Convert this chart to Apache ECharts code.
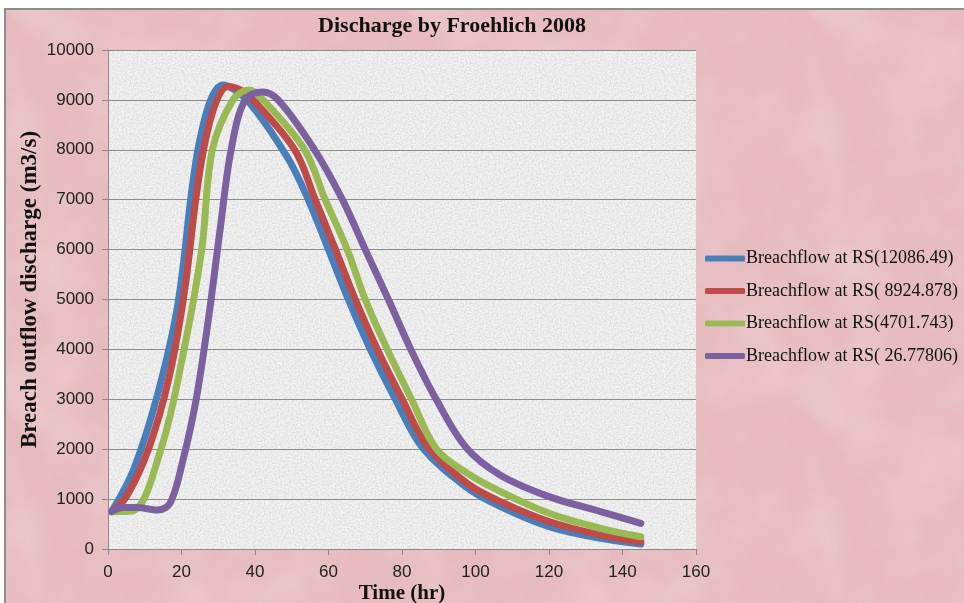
<!DOCTYPE html>
<html>
<head>
<meta charset="utf-8">
<title>Discharge by Froehlich 2008</title>
<script src="https://cdn.jsdelivr.net/npm/echarts@6/dist/echarts.min.js"></script>
<style>
  html, body { margin: 0; padding: 0; background: #ffffff; overflow: hidden; width: 964px; height: 603px; }
  #frame {
    position: absolute; left: 4px; top: 8px; width: 958px; height: 593px;
    background-color: #e8babe; border-left: 2px solid #8d8d8d; border-top: 2px solid #8d8d8d;
  }
  #plotbg { position: absolute; left: 108px; top: 50px; width: 588px; height: 499px; background-color: #ececec; }
  #chart { position: absolute; left: 0; top: 0; width: 964px; height: 603px; }
</style>
</head>
<body>
<div id="frame"></div>
<div id="plotbg"></div>
<div id="chart"></div>
<script>
// Hydrograph times (hr) and breach outflow (m3/s) at four river stations
const stationNames = [
  'Breachflow at RS(12086.49)',
  'Breachflow at RS( 8924.878)',
  'Breachflow at RS(4701.743)',
  'Breachflow at RS( 26.77806)'
];

const timeRS12086 = [1, 7, 13.5, 19, 25, 31.3, 37.8, 48.8, 54.5, 60, 65.4, 71.4, 78.2, 85.6, 97.3, 106.8, 120, 134, 145];
const flowRS12086 = [750, 1600, 3100, 4900, 8200, 9300, 9000, 7850, 7000, 6000, 5000, 4000, 3000, 2030, 1250, 850, 450, 215, 100];

const timeRS8924 = [1, 5, 11, 16.5, 20.5, 26.4, 32.7, 36, 39.5, 50.8, 56.4, 61.9, 67.3, 73.3, 80.1, 87, 98, 106.8, 120, 134, 145];
const flowRS8924 = [750, 1050, 2000, 3400, 5000, 8150, 9270, 9200, 9000, 8000, 7000, 6000, 5000, 4000, 3000, 2050, 1300, 950, 550, 280, 145];

const timeRS4701 = [1, 6.5, 14.4, 20.7, 25.5, 28.4, 34, 38.3, 42.2, 53.5, 59.1, 65.1, 70, 76, 82.6, 89.4, 97.7, 106.8, 120, 134, 145];
const flowRS4701 = [750, 760, 2000, 4000, 6000, 8000, 9000, 9200, 9000, 8000, 7000, 6000, 5000, 4000, 3000, 2000, 1520, 1150, 715, 415, 245];

const timeRS26 = [1, 4, 8, 13.5, 16.9, 20.2, 24, 27.5, 30.5, 33.5, 37.3, 42, 46.3, 56.2, 63.8, 70, 76.3, 82.4, 89.3, 97.5, 106.8, 120, 134, 145];
const flowRS26 = [750, 830, 830, 780, 920, 1720, 3000, 4700, 6400, 8000, 9000, 9160, 9000, 8000, 7000, 6000, 5000, 4000, 3000, 2030, 1480, 1050, 750, 515];

const xTicks = [0, 20, 40, 60, 80, 100, 120, 140, 160];
const yTicks = [0, 1000, 2000, 3000, 4000, 5000, 6000, 7000, 8000, 9000, 10000];

const lineColors = ['#4a7ebb', '#be4b48', '#98b954', '#7d60a0'];

function pairs(t, v) { return t.map((x, i) => [x, v[i]]); }
const seriesData = [
  pairs(timeRS12086, flowRS12086),
  pairs(timeRS8924, flowRS8924),
  pairs(timeRS4701, flowRS4701),
  pairs(timeRS26, flowRS26)
];

// Paper-like fills: pink parchment behind the chart, grey granite in the plot area
function svgTexture(size, freq, octaves, rgb, alphaScale, alphaOffset) {
  const svg = `<svg xmlns='http://www.w3.org/2000/svg' width='${size}' height='${size}'>` +
    `<filter id='t' x='0' y='0' width='100%' height='100%'>` +
    `<feTurbulence type='fractalNoise' baseFrequency='${freq}' numOctaves='${octaves}' seed='7' stitchTiles='stitch'/>` +
    `<feColorMatrix type='matrix' values='0 0 0 0 ${rgb[0]}  0 0 0 0 ${rgb[1]}  0 0 0 0 ${rgb[2]}  0 0 0 ${alphaScale} ${alphaOffset}'/>` +
    `</filter><rect width='100%' height='100%' filter='url(#t)'/></svg>`;
  return `url("data:image/svg+xml,${encodeURIComponent(svg)}")`;
}
document.getElementById('plotbg').style.backgroundImage =
  svgTexture(240, 0.55, 3, [0.62, 0.62, 0.62], 1.4, -0.55) + ',' +
  svgTexture(240, 0.9, 2, [1, 1, 1], 1.4, -0.45);
document.getElementById('frame').style.backgroundImage =
  svgTexture(300, 0.6, 3, [0.72, 0.52, 0.55], 1.0, -0.38) + ',' +
  svgTexture(400, 0.03, 3, [0.8, 0.6, 0.63], 0.8, -0.33) + ',' +
  svgTexture(400, 0.012, 3, [0.96, 0.82, 0.84], 0.7, -0.3);

const serif = '"Liberation Serif", "Times New Roman", serif';
const sans = '"Liberation Sans", Arial, sans-serif';

const chart = echarts.init(document.getElementById('chart'), null, { renderer: 'canvas' });
chart.setOption({
  backgroundColor: 'transparent',
  animation: false,
  color: lineColors,
  title: {
    text: 'Discharge by Froehlich 2008',
    left: 452, top: 15, textAlign: 'center', padding: 0,
    textStyle: { fontFamily: serif, fontWeight: 'bold', fontSize: 22, color: '#111' }
  },
  legend: {
    orient: 'vertical',
    left: 700, top: 243,
    icon: 'roundRect',
    itemWidth: 40, itemHeight: 6,
    itemGap: 11.5,
    textStyle: { fontFamily: serif, fontSize: 18, color: '#111', lineHeight: 21, padding: [0, 0, 0, -4] },
    data: stationNames
  },
  grid: {
    left: 108, right: 268, top: 50, bottom: 54,
    outerBoundsMode: 'none',
    containLabel: false,
    show: false
  },
  xAxis: {
    type: 'value', min: 0, max: 160, interval: 20,
    name: 'Time (hr)', nameLocation: 'middle', nameGap: 34, nameMoveOverlap: false,
    nameTextStyle: { fontFamily: serif, fontWeight: 'bold', fontSize: 21, color: '#111' },
    axisLine: { lineStyle: { color: '#8a8a8a', width: 1 } },
    axisTick: { show: true, length: 6, lineStyle: { color: '#8a8a8a' } },
    axisLabel: { fontFamily: sans, fontSize: 17, color: '#222', margin: 15,
      formatter: v => xTicks.includes(v) ? String(v) : '' },
    splitLine: { show: false }
  },
  yAxis: {
    type: 'value', min: 0, max: 10000, interval: 1000,
    name: 'Breach outflow discharge (m3/s)', nameLocation: 'middle', nameGap: 66, nameRotate: 90,
    nameMoveOverlap: false,
    nameTextStyle: { fontFamily: serif, fontWeight: 'bold', fontSize: 23, color: '#111', padding: [0, 0, 0, 20] },
    axisLine: { show: true, lineStyle: { color: '#8a8a8a', width: 1 } },
    axisTick: { show: true, length: 6, lineStyle: { color: '#8a8a8a' } },
    axisLabel: { fontFamily: sans, fontSize: 17, color: '#222', margin: 14,
      formatter: v => yTicks.includes(v) ? String(v) : '' },
    splitLine: { show: true, lineStyle: { color: '#8c8c8c', width: 1 } }
  },
  series: seriesData.map((d, i) => ({
    name: stationNames[i],
    type: 'line',
    data: d,
    smooth: 0.35,
    showSymbol: false,
    symbol: 'none',
    lineStyle: { width: 7, color: lineColors[i], cap: 'round', join: 'round' },
    itemStyle: { color: lineColors[i] },
    z: 2 + i
  }))
});
</script>
</body>
</html>
